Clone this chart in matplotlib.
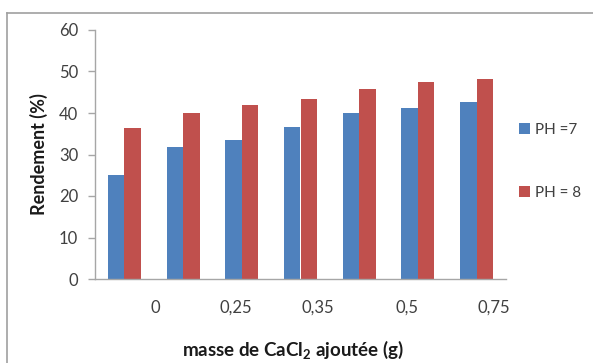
import matplotlib
matplotlib.use("Agg")
import matplotlib.pyplot as plt
import numpy as np
from matplotlib.lines import Line2D

# Data
n_groups = 7
ph7 = [25.0, 31.7, 33.5, 36.7, 39.9, 41.3, 42.7]
ph8 = [36.5, 39.9, 41.9, 43.4, 45.8, 47.5, 48.2]
series_labels = ["PH =7", "PH = 8"]
tick_labels = ["0", "0,25", "0,35", "0,5", "0,75"]
tick_pos = [0.53, 1.90, 3.30, 4.81, 6.30]
yticks = [0, 10, 20, 30, 40, 50, 60]

plt.rcParams['font.family'] = ['Lato', 'DejaVu Sans']
plt.rcParams['mathtext.fontset'] = 'custom'
plt.rcParams['mathtext.rm'] = 'Lato:bold'
plt.rcParams['mathtext.it'] = 'Lato:bold'
plt.rcParams['mathtext.bf'] = 'Lato:bold'

W, H = 593, 363
fig = plt.figure(figsize=(W / 100, H / 100), dpi=100)
ax = fig.add_axes([95 / W, 1 - 279 / H, (506 - 95) / W, (279 - 30) / H])

x = np.arange(n_groups)
bw = 0.28
c_blue = "#4F81BD"
c_red = "#C0504D"
ax.bar(x - bw / 2, ph7, width=bw, color=c_blue, label=series_labels[0])
ax.bar(x + bw / 2, ph8, width=bw, color=c_red, label=series_labels[1])

ax.set_xlim(-0.5, n_groups - 0.5)
ax.set_ylim(0, 60)
ax.set_yticks(yticks)
ax.set_xticks(tick_pos)
ax.set_xticklabels(tick_labels)

txt_col = "#404040"
ax.tick_params(axis='y', length=5, width=1, color="#A6A6A6", labelsize=12,
               labelcolor=txt_col, pad=7)
ax.tick_params(axis='x', length=0, labelsize=12, labelcolor=txt_col, pad=15)
for s in ["top", "right"]:
    ax.spines[s].set_visible(False)
for s in ["left", "bottom"]:
    ax.spines[s].set_color("#A6A6A6")
    ax.spines[s].set_linewidth(1)

ax.set_ylabel("Rendement (%)", fontsize=13, fontweight='bold', color="#1a1a1a", labelpad=8)
fig.text(293 / W, 1 - 350 / H, "masse de CaCl$_\\mathrm{2}$ ajoutée (g)", ha='center', va='center',
         fontsize=13.5, fontweight='bold', color="#1a1a1a")

leg = fig.legend(loc='upper left', bbox_to_anchor=(519 / W, 1 - 123 / H), frameon=False,
                 borderpad=0, borderaxespad=0,
                 fontsize=11, handlelength=0.7, handleheight=0.7, handletextpad=0.35,
                 labelspacing=3.2, labelcolor=txt_col)

# outer frame
fig.add_artist(Line2D([7 / W, 1], [1 - 12.7 / H, 1 - 12.7 / H], color="#A0A0A0", lw=1.2,
                      transform=fig.transFigure))
fig.add_artist(Line2D([7 / W, 7 / W], [0, 1 - 12.7 / H], color="#A0A0A0", lw=1.2,
                      transform=fig.transFigure))

fig.savefig("out.png", dpi=100)
